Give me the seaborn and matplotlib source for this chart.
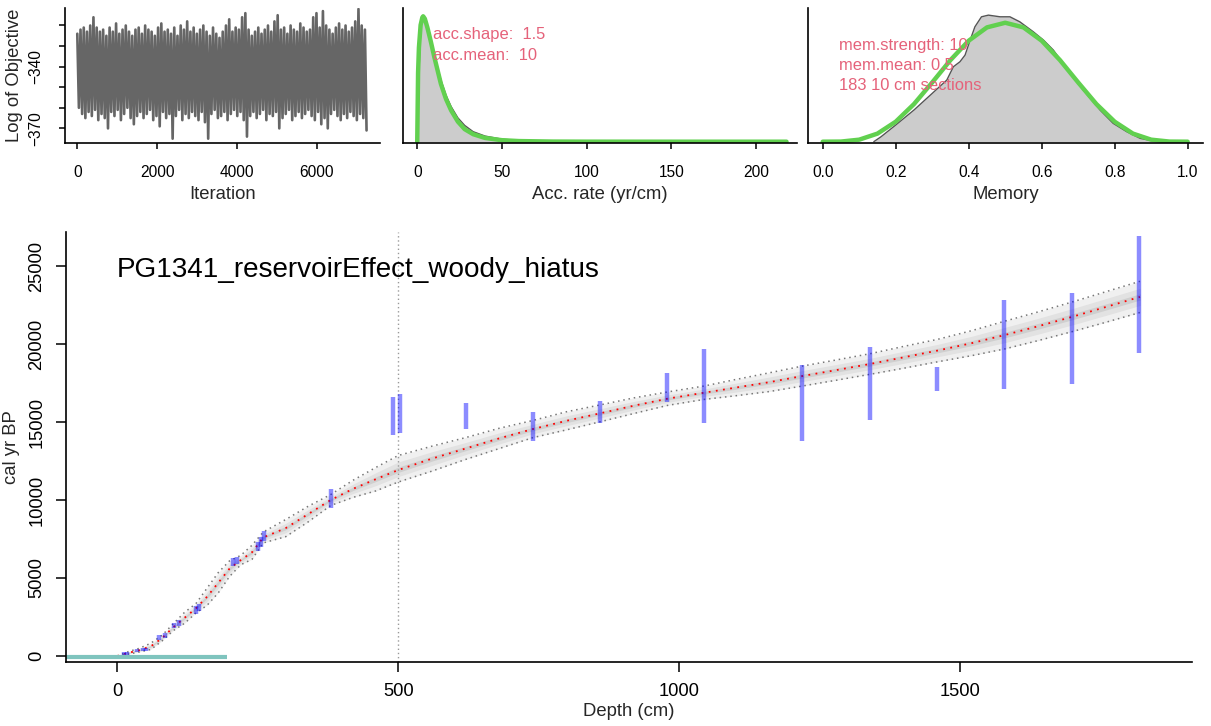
import matplotlib
matplotlib.use("Agg")
import matplotlib.pyplot as plt
import numpy as np
import pandas as pd
import seaborn as sns

# MCMC trace (log of objective)
n_iter = 7250
trace_tops = [-324, -322, -321, -323, -320, -316, -321, -323, -322, -325, -321, -323, -319, -324, -322,
              -320, -323, -325, -322, -321, -324, -320, -322, -323, -325, -321, -319, -323, -322, -324,
              -321, -325, -320, -322, -318, -323, -321, -324, -322, -320, -323, -325, -321, -324, -326,
              -323, -320, -317, -323, -321, -322, -316, -314, -322, -325, -323, -321, -324, -322, -320,
              -323, -318, -315, -322, -321, -324, -320, -322, -323, -319, -321, -323, -322, -316, -314,
              -321, -313, -320, -322, -324, -321, -319, -322, -320, -323, -321, -318, -312, -320, -322]
trace_bottoms = [-360, -363, -365, -362, -364, -361, -366, -363, -365, -370, -362, -364, -361, -366, -363,
                 -360, -365, -368, -364, -362, -365, -363, -361, -366, -364, -369, -362, -365, -363, -375,
                 -364, -361, -366, -363, -365, -362, -364, -366, -362, -367, -375, -363, -361, -365, -364,
                 -362, -366, -363, -361, -364, -362, -366, -374, -364, -362, -365, -363, -361, -366, -363,
                 -364, -362, -370, -365, -363, -361, -366, -364, -362, -365, -363, -361, -364, -366, -362,
                 -368, -365, -370, -363, -361, -364, -366, -363, -365, -362, -364, -366, -363, -365, -371]

# accumulation rate: posterior (grey) and prior (green), relative density
acc_post_x = [0, 1, 2, 3, 4, 5, 6, 8, 10, 12, 14, 17, 20, 24, 28, 33, 40, 50, 60, 80, 100, 150, 218]
acc_post_y = [0, 0.55, 0.88, 0.99, 1.0, 0.97, 0.92, 0.80, 0.70, 0.59, 0.49, 0.37, 0.28, 0.19, 0.13,
              0.08, 0.045, 0.02, 0.01, 0.004, 0.002, 0.0005, 0]
acc_prior_x = [0, 0.5, 1, 2, 3, 3.5, 4.5, 6, 8, 10, 12, 14, 17, 20, 24, 28, 33, 40, 50, 60, 80, 100, 150, 218]
acc_prior_y = [0, 0.55, 0.75, 0.93, 0.99, 1.0, 0.98, 0.91, 0.80, 0.68, 0.57, 0.46, 0.34, 0.25, 0.16,
               0.10, 0.06, 0.03, 0.012, 0.005, 0.001, 0.0003, 0, 0]

# memory: posterior (grey) and prior (green)
mem_post_x = [0.14, 0.16, 0.2, 0.25, 0.3, 0.34, 0.358, 0.376, 0.39, 0.404, 0.417, 0.435, 0.454, 0.486,
              0.513, 0.54, 0.577, 0.605, 0.632, 0.668, 0.714, 0.76, 0.796, 0.833, 0.87, 0.906, 0.94]
mem_post_y = [0, 0.042, 0.14, 0.266, 0.406, 0.518, 0.63, 0.672, 0.728, 0.854, 0.966, 1.05, 1.064, 1.05,
              1.05, 1.008, 0.924, 0.854, 0.77, 0.616, 0.434, 0.266, 0.154, 0.084, 0.028, 0.006, 0]
mem_prior_x = [0, 0.05, 0.1, 0.15, 0.2, 0.25, 0.3, 0.35, 0.4, 0.45, 0.5, 0.55, 0.6, 0.65, 0.7, 0.75,
               0.8, 0.85, 0.9, 0.95, 1.0]
mem_prior_y = [0, 0.001, 0.017, 0.068, 0.168, 0.316, 0.498, 0.686, 0.849, 0.961, 1.0, 0.961, 0.849,
               0.686, 0.498, 0.316, 0.168, 0.068, 0.017, 0.001, 0]

# age-depth model
depth = [0, 20, 40, 60, 80, 100, 120, 140, 160, 180, 200, 220, 240, 260, 300, 340, 380, 420, 460, 500,
         560, 620, 680, 740, 800, 860, 920, 980, 1045, 1100, 1160, 1220, 1280, 1340, 1400, 1460, 1520,
         1580, 1640, 1700, 1760, 1820]
age_mean = [0, 200, 380, 620, 1150, 1850, 2450, 3050, 3800, 4700, 5600, 6150, 6650, 7600, 8200, 9100,
            10000, 10720, 11330, 11920, 12650, 13300, 13950, 14550, 15080, 15560, 16050, 16500, 16880,
            17200, 17550, 17950, 18330, 18720, 19150, 19580, 20050, 20580, 21150, 21750, 22380, 23020]
age_min = [0, 120, 260, 420, 970, 1630, 2100, 2750, 3250, 4050, 5100, 5850, 6200, 7250, 7650, 8600,
           9650, 10170, 10580, 11150, 11850, 12600, 13300, 14000, 14500, 15020, 15550, 16070, 16450,
           16680, 16950, 17310, 17680, 18060, 18450, 18860, 19250, 19690, 20230, 20800, 21400, 22020]
age_max = [0, 280, 500, 820, 1330, 2070, 2800, 3350, 4350, 5350, 6100, 6450, 7100, 7950, 8750, 9600,
           10350, 11270, 12080, 12850, 13450, 14000, 14600, 15100, 15660, 16100, 16550, 16930, 17310,
           17720, 18150, 18590, 18980, 19380, 19850, 20300, 20850, 21470, 22070, 22700, 23360, 24020]

# calibrated dates: depth, lower and upper age
date_depth = [12, 18, 36, 46, 52, 75, 85, 102, 110, 140, 146, 207, 213, 250, 256, 262, 380,
              490, 503, 620, 740, 859, 979, 1045, 1219, 1339, 1458, 1578, 1699, 1818]
date_lo = [40, 80, 250, 300, 330, 1050, 1150, 1800, 1950, 2700, 2900, 5800, 5900, 6700, 7000, 7400, 9500,
           14170, 14320, 14530, 13800, 14910, 16300, 14960, 13780, 15130, 17010, 17100, 17420, 19440]
date_hi = [250, 280, 450, 500, 520, 1350, 1450, 2100, 2300, 3200, 3350, 6300, 6350, 7300, 7600, 8000, 10700,
           16620, 16770, 16240, 15620, 16350, 18120, 19680, 18650, 19830, 18550, 22820, 23250, 26940]

hiatus_depth = 500
core_name = "PG1341_reservoirEffect_woody_hiatus"

sns.set_theme(style="ticks")
plt.rcParams['font.family'] = ['Liberation Sans', 'DejaVu Sans']
plt.rcParams['axes.unicode_minus'] = True

W, H = 1211, 726
fig = plt.figure(figsize=(W / 100, H / 100), dpi=100)
fig.patch.set_facecolor('white')

red_txt = '#E5627A'
green = '#61D04F'


def style(ax, ticklen, labelsize, pad):
    sns.despine(ax=ax)
    for s in ['left', 'bottom']:
        ax.spines[s].set_linewidth(1.2)
        ax.spines[s].set_color('black')
    ax.tick_params(length=ticklen, width=1.1, labelsize=labelsize, pad=pad, colors='black',
                   direction='out')
    ax.set_facecolor('white')
    ax.grid(False)


# ---- panel 1: trace
ax1 = fig.add_axes([65 / W, 1 - 143 / H, 315 / W, 135 / H])
n = min(len(trace_tops), len(trace_bottoms))
trace = np.ravel(np.column_stack([trace_tops[:n], trace_bottoms[:n]]))
iters = np.linspace(0, n_iter, len(trace))
sns.lineplot(x=iters, y=trace, ax=ax1, color='#666666', lw=1.9, estimator=None, sort=False)
ax1.set_xlim(-308, 7587)
ax1.set_ylim(-377.1, -311.5)
style(ax1, 4.5, 11.2, 11)
ax1.set_xticks([0, 2000, 4000, 6000])
ax1.set_yticks([-320, -330, -340, -350, -360, -370])
ax1.set_yticklabels(['', '', '\u2212340', '', '', '\u2212370'], rotation=90, va='center')
ax1.set_xlabel('Iteration', fontsize=13.3, labelpad=5)
ax1.set_ylabel('Log of Objective', fontsize=13.3, labelpad=4)

# ---- panel 2: accumulation rate
ax2 = fig.add_axes([403 / W, 1 - 143 / H, 393.7 / W, 135 / H])
ax2.fill_between(acc_post_x, 0, acc_post_y, color='#CCCCCC', lw=0)
sns.lineplot(x=acc_post_x, y=acc_post_y, ax=ax2, color='#555555', lw=1.0, estimator=None)
sns.lineplot(x=acc_prior_x, y=acc_prior_y, ax=ax2, color=green, lw=3.2, estimator=None)
ax2.set_xlim(-8.4, 224)
ax2.set_ylim(-0.0104, 1.066)
style(ax2, 4.5, 11.2, 11)
ax2.set_xticks([0, 50, 100, 150, 200])
ax2.set_yticks([])
ax2.set_xlabel('Acc. rate (yr/cm)', fontsize=13.3, labelpad=5)
ax2.text(9.4, 0.82, 'acc.shape:  1.5', color=red_txt, fontsize=11.9, va='baseline')
ax2.text(9.4, 0.652, 'acc.mean:  10', color=red_txt, fontsize=11.9, va='baseline')

# ---- panel 3: memory
ax3 = fig.add_axes([808.3 / W, 1 - 143 / H, 394.7 / W, 135 / H])
ax3.fill_between(mem_post_x, 0, mem_post_y, color='#CCCCCC', lw=0)
sns.lineplot(x=mem_post_x, y=mem_post_y, ax=ax3, color='#555555', lw=1.0, estimator=None)
sns.lineplot(x=mem_prior_x, y=mem_prior_y, ax=ax3, color=green, lw=3.2, estimator=None)
ax3.set_xlim(-0.0395, 1.042)
ax3.set_ylim(-0.011, 1.124)
style(ax3, 4.5, 11.2, 11)
ax3.set_xticks([0, 0.2, 0.4, 0.6, 0.8, 1.0])
ax3.set_xticklabels(['0.0', '0.2', '0.4', '0.6', '0.8', '1.0'])
ax3.set_yticks([])
ax3.set_xlabel('Memory', fontsize=13.3, labelpad=5)
ax3.text(0.045, 0.77, 'mem.strength: 10', color=red_txt, fontsize=11.9, va='baseline')
ax3.text(0.045, 0.60, 'mem.mean: 0.5', color=red_txt, fontsize=11.9, va='baseline')
ax3.text(0.045, 0.434, '183 10 cm sections', color=red_txt, fontsize=11.9, va='baseline')

# ---- main age-depth panel
axm = fig.add_axes([66 / W, 1 - 662 / H, 1125.7 / W, 430 / H])
dm = np.array(age_mean)
lo = np.array(age_min)
hi = np.array(age_max)
axm.fill_between(depth, lo, hi, color='#F0F0F0', lw=0)
axm.fill_between(depth, dm - 0.55 * (dm - lo), dm + 0.55 * (hi - dm), color='#E2E2E2', lw=0)
axm.fill_between(depth, dm - 0.2 * (dm - lo), dm + 0.2 * (hi - dm), color='#CFCFCF', lw=0)
sns.lineplot(x=depth, y=age_min, ax=axm, color='#777777', lw=1.1, ls=(0, (1, 2.5)), estimator=None)
sns.lineplot(x=depth, y=age_max, ax=axm, color='#777777', lw=1.1, ls=(0, (1, 2.5)), estimator=None)
sns.lineplot(x=depth, y=age_mean, ax=axm, color='red', lw=1.3, ls=(0, (1, 3)), estimator=None)
axm.axvline(hiatus_depth, color='#999999', lw=1.0, ls=(0, (1, 2)))
axm.vlines(date_depth, date_lo, date_hi, color=(0, 0, 1, 0.45), lw=3.2)
axm.hlines(-45, -91, 195, color='#7FC4BE', lw=3)
axm.set_xlim(-91, 1912)
axm.set_ylim(-385, 27180)
style(axm, 7.5, 13.2, 7.5)
axm.set_xticks([0, 500, 1000, 1500])
axm.set_yticks([0, 5000, 10000, 15000, 20000, 25000])
plt.setp(axm.get_yticklabels(), rotation=90, va='center')
axm.set_xlabel('Depth (cm)', fontsize=13.3, labelpad=2)
axm.set_ylabel('cal yr BP', fontsize=13.3, labelpad=6)
axm.text(0, 24314, core_name, fontsize=20.1, va='baseline', ha='left', color='black')

fig.savefig('out.png', dpi=100, facecolor='white')
